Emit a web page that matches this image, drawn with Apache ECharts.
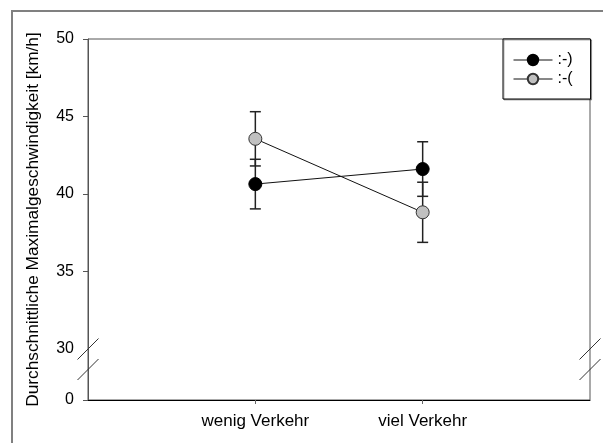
<!DOCTYPE html>
<html>
<head>
<meta charset="utf-8">
<script src="https://cdn.jsdelivr.net/npm/echarts@6/dist/echarts.min.js"></script>
<style>
html,body{margin:0;padding:0;background:#fff;}
#c{width:603px;height:443px;}
</style>
</head>
<body>
<div id="c"></div>
<script>
// ---- data ----
const categories = ['wenig Verkehr', 'viel Verkehr'];
const seriesNames = [':-)', ':-('];
const happyMean = [40.64, 41.61];
const happyErr = [1.60, 1.76];
const sadMean = [43.56, 38.82];
const sadErr = [1.75, 1.94];
const yTickLabels = [0, 30, 35, 40, 45, 50];
const yTitle = 'Durchschnittliche Maximalgeschwindigkeit [km/h]';

// ---- broken axis: bottom segment shows 0 below the break at 30 ----
const BREAK_AT = 30;
const AXIS_BOTTOM = 26.71;           // axis value where the "0" of the lower segment sits
const toAxis = v => (v < BREAK_AT ? AXIS_BOTTOM : v);
const labelVals = yTickLabels.map(toAxis);
const tickVals = yTickLabels.filter(v => v !== BREAK_AT).map(toAxis);

const xPos = categories.map((c, i) => i + 1);
const mk = (means) => means.map((m, i) => [xPos[i], m]);
const mkErr = (means, errs) => means.map((m, i) => [xPos[i], m - errs[i], m + errs[i]]);

const font = 'Liberation Sans, Arial, sans-serif';
const chart = echarts.init(document.getElementById('c'), null, {renderer: 'canvas'});

function errRender(params, api) {
  const x = api.value(0);
  const lo = api.coord([x, api.value(1)]);
  const hi = api.coord([x, api.value(2)]);
  const w = 5.5;
  const st = {stroke: '#222', lineWidth: 1.5};
  return {type: 'group', children: [
    {type: 'line', shape: {x1: lo[0], y1: lo[1], x2: hi[0], y2: hi[1]}, style: st},
    {type: 'line', shape: {x1: lo[0] - w, y1: lo[1], x2: lo[0] + w, y2: lo[1]}, style: st},
    {type: 'line', shape: {x1: hi[0] - w, y1: hi[1], x2: hi[0] + w, y2: hi[1]}, style: st}
  ]};
}

chart.setOption({
  animation: false,
  backgroundColor: '#fff',
  grid: {left: 88, right: 13, top: 39, bottom: 43, show: true, borderColor: '#555', borderWidth: 1},
  xAxis: {
    type: 'value', min: 0, max: categories.length + 1,
    splitLine: {show: false},
    axisLine: {lineStyle: {color: '#000', width: 1}},
    axisTick: {customValues: xPos, length: 4, lineStyle: {color: '#666'}},
    axisLabel: {customValues: xPos, formatter: v => categories[Math.round(v) - 1] || '',
      color: '#000', fontSize: 17, fontFamily: font, margin: 13}
  },
  yAxis: {
    type: 'value', min: AXIS_BOTTOM, max: 50,
    name: yTitle, nameLocation: 'middle', nameGap: 46,
    nameTextStyle: {color: '#000', fontSize: 17.3, fontFamily: font},
    splitLine: {show: false},
    axisLine: {show: true, lineStyle: {color: '#555', width: 1}},
    axisTick: {customValues: tickVals, length: 5, lineStyle: {color: '#555'}},
    axisLabel: {customValues: labelVals, formatter: v => (v < BREAK_AT ? '0' : String(Math.round(v))),
      color: '#000', fontSize: 16, fontFamily: font, margin: 14}
  },
  legend: {
    orient: 'vertical', left: 503, top: 39,
    data: seriesNames,
    backgroundColor: '#fff', borderColor: '#000', borderWidth: 1, borderRadius: 0,
    shadowColor: 'rgba(0,0,0,0.3)', shadowOffsetX: 1, shadowOffsetY: 1, shadowBlur: 0,
    padding: [13, 18, 12, 10], itemGap: 3, itemWidth: 39, itemHeight: 13,
    lineStyle: {width: 1},
    textStyle: {color: '#000', fontSize: 16, fontFamily: font}
  },
  series: [
    {type: 'custom', name: 'errHappy', renderItem: errRender, data: mkErr(happyMean, happyErr), z: 1, silent: true},
    {type: 'custom', name: 'errSad', renderItem: errRender, data: mkErr(sadMean, sadErr), z: 1, silent: true},
    {type: 'line', name: seriesNames[0], data: mk(happyMean), z: 3,
      symbol: 'circle', symbolSize: 13,
      lineStyle: {color: '#111', width: 1},
      itemStyle: {color: '#000', borderColor: '#000', borderWidth: 1}},
    {type: 'line', name: seriesNames[1], data: mk(sadMean), z: 3,
      symbol: 'circle', symbolSize: 13,
      lineStyle: {color: '#111', width: 1},
      itemStyle: {color: '#c0c0c0', borderColor: '#333', borderWidth: 1}}
  ]
});

// frame + break marks
const yb = chart.convertToPixel({yAxisIndex: 0}, BREAK_AT);
const xl = chart.convertToPixel({xAxisIndex: 0}, 0);
const xr = chart.convertToPixel({xAxisIndex: 0}, categories.length + 1);
const s = 10.5, gap = 20.5;
const slash = (x, y) => ({type: 'line', shape: {x1: x - s, y1: y + s, x2: x + s, y2: y - s},
  style: {stroke: '#333', lineWidth: 1}, z: 10});
chart.setOption({
  graphic: [
    {type: 'rect', shape: {x: 12, y: 11, width: 640, height: 480}, style: {fill: null, stroke: '#808080', lineWidth: 2}, z: 10},
    slash(xl, yb), slash(xl, yb + gap), slash(xr, yb), slash(xr, yb + gap)
  ]
});
</script>
</body>
</html>
